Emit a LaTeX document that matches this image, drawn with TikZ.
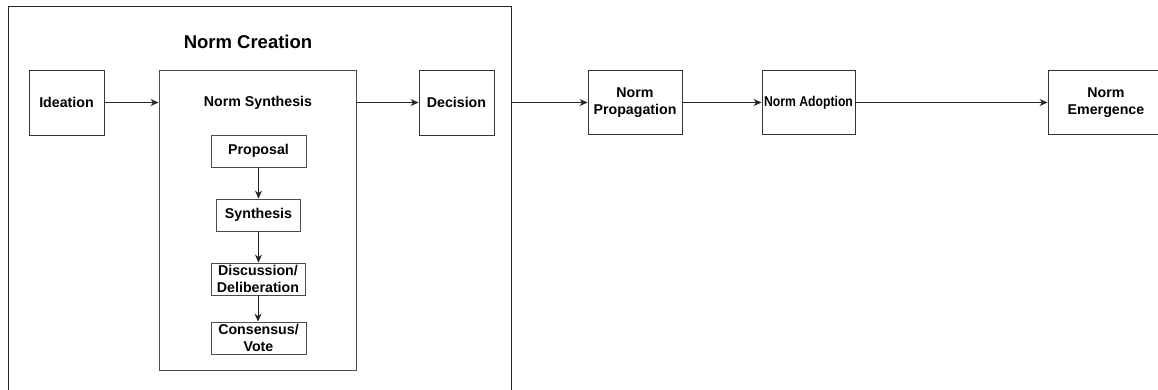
\documentclass[tikz,border=0pt]{standalone}
\usepackage{fontspec}
\setmainfont{Liberation Sans}
\usetikzlibrary{arrows.meta}
\tikzset{
  box/.style={draw=black!80, line width=0.9pt, fill=white, align=center, inner sep=1pt,
    font=\bfseries\fontsize{14.2}{16.7}\selectfont},
  subbox/.style={box, draw=black!70},
  conn/.style={draw=black!85, line width=0.9pt, -{Stealth[length=8pt,width=7pt]}},
  lbl/.style={align=center, inner sep=0pt}
}
\begin{document}
\begin{tikzpicture}[x=1pt,y=-1pt]
\useasboundingbox (0,0) rectangle (1158,389);
\clip (0,0) rectangle (1158,389);
\fill[white] (0,0) rectangle (1158,389);
% outer Norm Creation container
\node[draw=black!85, line width=0.9pt, minimum width=503pt, minimum height=400pt, anchor=north west, inner sep=0pt] (creation) at (8,6) {};
\node[lbl, font=\bfseries\fontsize{18.5}{22}\selectfont] (ctitle) at (248,42) {Norm Creation};
% main nodes
\node[box, minimum width=75pt, minimum height=65pt] (ideation) at (66.5,102.5) {Ideation};
\node[box, draw=black!70, minimum width=197pt, minimum height=300pt] (synth) at (257.5,220) {};
\node[lbl, font=\bfseries\fontsize{14.2}{16.7}\selectfont] (stitle) at (258,103) {Norm Synthesis};
\node[box, minimum width=75pt, minimum height=65pt] (decision) at (456.5,102.5) {Decision};
\node[box, minimum width=94pt, minimum height=64pt] (prop) at (635,102.5) {Norm\\Propagation};
\node[box, minimum width=93pt, minimum height=64pt, inner sep=0pt] (adopt) at (808.5,102.5) {\scalebox{0.86}[1]{Norm Adoption}};
\node[box, minimum width=116pt, minimum height=64pt] (emerg) at (1106,102.5) {Norm\\Emergence};
% sub nodes
\node[subbox, minimum width=95pt, minimum height=32pt] (proposal) at (258.5,151) {Proposal};
\node[subbox, minimum width=84pt, minimum height=32pt] (synthesis) at (258.5,215) {Synthesis};
\node[subbox, minimum width=94pt, minimum height=32pt] (discussion) at (258,279) {Discussion/\\Deliberation};
\node[subbox, minimum width=95pt, minimum height=32pt] (consensus) at (258.5,338) {Consensus/\\Vote};
% connectors
\draw[conn] (ideation.east) -- (ideation.east -| synth.west);
\draw[conn] (decision.west -| synth.east) -- (decision.west);
\draw[conn] (prop.west -| creation.east) -- (prop.west);
\draw[conn] (prop.east) -- (adopt.west);
\draw[conn] (adopt.east) -- (emerg.west);
\draw[conn] (proposal.south) -- (proposal.south |- synthesis.north);
\draw[conn] (synthesis.south) -- (synthesis.south |- discussion.north);
\draw[conn] (discussion.south) -- (discussion.south |- consensus.north);
\end{tikzpicture}
\end{document}
